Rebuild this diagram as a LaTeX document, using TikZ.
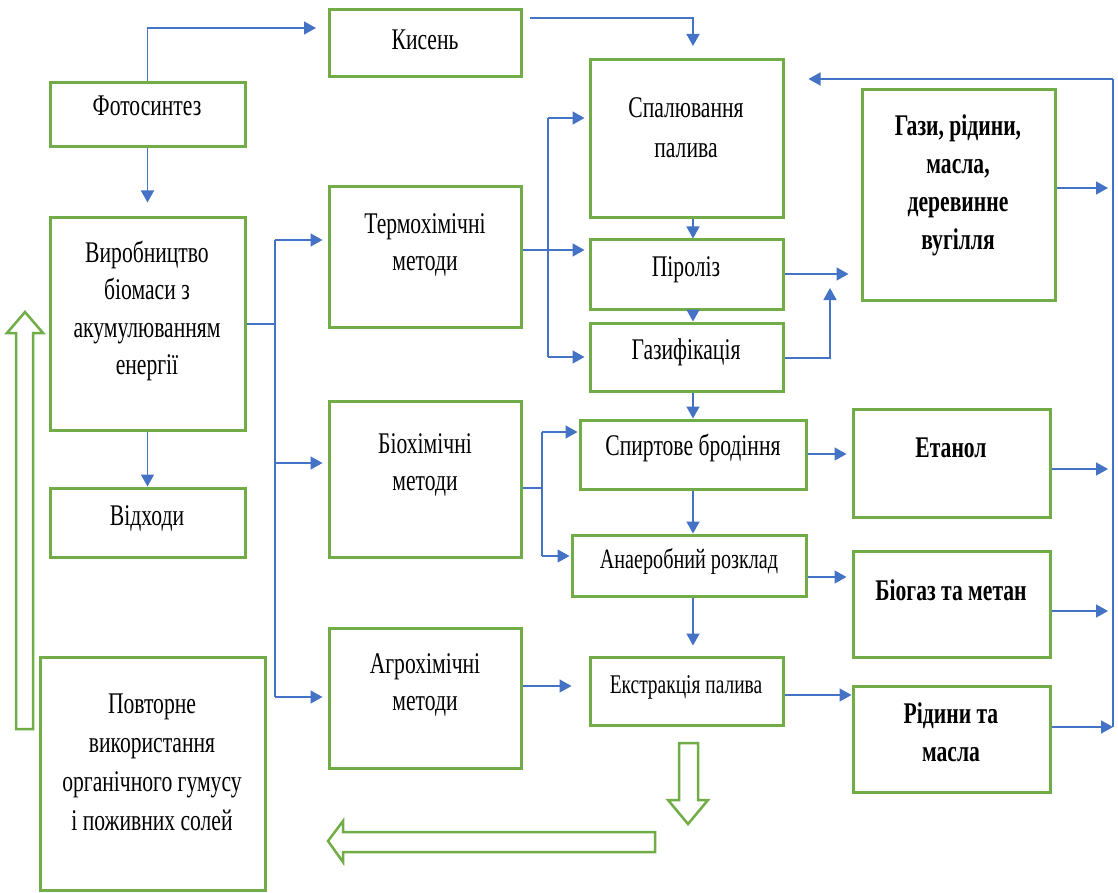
\documentclass[tikz,border=0pt]{standalone}
\usepackage{fontspec}
\setmainfont{Liberation Serif}[FakeStretch=0.72]
\usetikzlibrary{arrows.meta,fit}
\definecolor{gr}{HTML}{70AD47}
\definecolor{bl}{HTML}{4472C4}
\begin{document}
\begin{tikzpicture}[x=1pt,y=-1pt,
  box/.style={draw=gr,line width=3pt,inner sep=0pt,rectangle},
  txt/.style={align=center,inner sep=0pt,font=\fontsize{30}{37.5}\selectfont},
  btxt/.style={align=center,inner sep=0pt,font=\fontsize{30}{38}\selectfont\bfseries},
  ln/.style={draw=bl,line width=1.6pt},
  arr/.style={ln,-{Triangle[length=12pt,width=13pt]}},
  hollow/.style={draw=gr,line width=2.5pt,fill=white,line join=miter}]
\useasboundingbox (0,0) rectangle (1118,893);

% boxes
\node[box,fit={(329,10)(521,77)}] (kys) {};
\node[box,fit={(50,83)(245,147)}] (foto) {};
\node[box,fit={(50,218)(245,430)}] (vyr) {};
\node[box,fit={(50,488)(245,557)}] (vidh) {};
\node[box,fit={(40,657)(265,890)}] (povt) {};
\node[box,fit={(329,187)(521,327)}] (term) {};
\node[box,fit={(329,401)(521,557)}] (bio) {};
\node[box,fit={(329,628)(521,768)}] (agro) {};
\node[box,fit={(590,60)(783,218)}] (spal) {};
\node[box,fit={(590,240)(783,309)}] (pir) {};
\node[box,fit={(590,323)(783,391)}] (gaz) {};
\node[box,fit={(580,420)(806,489)}] (spyrt) {};
\node[box,fit={(572,535)(806,596)}] (anaer) {};
\node[box,fit={(590,657)(783,725)}] (ekst) {};
\node[box,fit={(862,90)(1055,300)}] (gazy) {};
\node[box,fit={(853,409)(1050,517)}] (etan) {};
\node[box,fit={(853,551)(1050,657)}] (biogaz) {};
\node[box,fit={(853,686)(1050,792)}] (ridyny) {};

% texts
\node[txt] (kysT) at (425,40) {Кисень};
\node[txt] (fotoT) at (147,106) {Фотосинтез};
\node[txt] (vyrT) at (147,311) {Виробництво\\біомаси з\\акумулюванням\\енергії};
\node[txt] (vidhT) at (147,518) {Відходи};
\node[txt,font=\fontsize{30}{39}\selectfont] (povtT) at (152,762) {Повторне\\використання\\органічного гумусу\\і поживних солей};
\node[txt] (termT) at (425,245) {Термохімічні\\методи};
\node[txt] (bioT) at (425,465) {Біохімічні\\методи};
\node[txt] (agroT) at (425,685) {Агрохімічні\\методи};
\node[txt,font=\fontsize{30}{40}\selectfont] (spalT) at (686,128) {Спалювання\\палива};
\node[txt] (pirT) at (686,270) {Піроліз};
\node[txt] (gazT) at (686,352) {Газифікація};
\node[txt] (spyrtT) at (693,448) {Спиртове бродіння};
\node[txt,font=\fontsize{28}{34}\selectfont] (anaerT) at (689,561) {Анаеробний розклад};
\node[txt,font=\fontsize{27}{34}\selectfont] (ekstT) at (686,687) {Екстракція палива};
\node[btxt] (gazyT) at (958,185) {Гази, рідини,\\масла,\\деревинне\\вугілля};
\node[btxt] (etanT) at (951,448) {Етанол};
\node[btxt] (biogazT) at (951,590) {Біогаз та метан};
\node[btxt] (ridynyT) at (951,732) {Рідини та\\масла};

% coordinates
\coordinate (kysIn) at (316,28);
\coordinate (kysOut) at (530,18);
\coordinate (spalIn) at (693,46);
\coordinate (vx) at (693,0);
\coordinate (t1a) at (275,240);
\coordinate (t1m) at (275,463);
\coordinate (t1b) at (275,697);
\coordinate (t2a) at (548,118);
\coordinate (t2p) at (548,250);
\coordinate (t2b) at (548,357);
\coordinate (t3a) at (542,432);
\coordinate (t3m) at (542,488);
\coordinate (t3b) at (542,556);
\coordinate (ya) at (0,686);
\coordinate (yp) at (0,274);
\coordinate (yg) at (0,358);
\coordinate (gup) at (830,288);
\coordinate (ys) at (0,454);
\coordinate (yan) at (0,577);
\coordinate (ye) at (0,695);
\coordinate (fbx) at (1113,0);
\coordinate (y1) at (0,188);
\coordinate (y2) at (0,469);
\coordinate (y3) at (0,611);
\coordinate (y4) at (0,727);
\coordinate (y0) at (0,79);

% connectors
\draw[arr] (foto.north) |- (kysIn);
\draw[arr] (kysOut) -| (spalIn);
\draw[arr,shorten >=14pt] (foto.south) -- (vyr.north);
\draw[arr] (vyr.south) -- (vidh.north);

\draw[ln] (vyr.east) -- (vyr.east -| t1a);
\draw[ln] (t1a) -- (t1b);
\draw[arr,shorten >=5pt] (t1a) -- (t1a -| term.west);
\draw[arr,shorten >=5pt] (t1m) -- (t1m -| bio.west);
\draw[arr,shorten >=5pt] (t1b) -- (t1b -| agro.west);

\draw[ln] (t2p -| term.east) -- (t2p);
\draw[ln] (t2a) -- (t2b);
\draw[arr,shorten >=4pt] (t2a) -- (t2a -| spal.west);
\draw[arr,shorten >=4pt] (t2p) -- (t2p -| pir.west);
\draw[arr,shorten >=4pt] (t2b) -- (t2b -| gaz.west);

\draw[arr] (spal.south -| vx) -- (pir.north -| vx);
\draw[arr] (pir.south -| vx) -- (gaz.north -| vx);
\draw[arr] (gaz.south -| vx) -- (spyrt.north -| vx);
\draw[arr] (spyrt.south -| vx) -- (anaer.north -| vx);
\draw[arr,shorten >=10pt] (anaer.south -| vx) -- (ekst.north -| vx);

\draw[ln] (t3m -| bio.east) -- (t3m);
\draw[ln] (t3a) -- (t3b);
\draw[arr,shorten >=1pt] (t3a) -- (t3a -| spyrt.west);
\draw[arr,shorten >=1pt] (t3b) -- (t3b -| anaer.west);

\draw[arr,shorten >=17pt] (ya -| agro.east) -- (ya -| ekst.west);
\draw[arr,shorten >=12pt] (yp -| pir.east) -- (yp -| gazy.west);
\draw[arr] (yg -| gaz.east) -| (gup);
\draw[arr,shorten >=5pt] (ys -| spyrt.east) -- (ys -| etan.west);
\draw[arr,shorten >=5pt] (yan -| anaer.east) -- (yan -| biogaz.west);
\draw[arr] (ye -| ekst.east) -- (ye -| ridyny.west);

\draw[arr,shorten >=5pt] (y1 -| gazy.east) -- (y1 -| fbx);
\draw[arr,shorten >=5pt] (y2 -| etan.east) -- (y2 -| fbx);
\draw[arr,shorten >=5pt] (y3 -| biogaz.east) -- (y3 -| fbx);
\draw[arr] (y4 -| ridyny.east) -- (y4 -| fbx);
\draw[ln] (y4 -| fbx) -- (y0 -| fbx);
\draw[arr,shorten >=24pt] (y0 -| fbx) -- (y0 -| spal.east);

% hollow arrows
\draw[hollow] (16,729) -- (16,333) -- (7,333) -- (25,312) -- (43,333) -- (33,333) -- (33,729) -- cycle;
\draw[hollow] (679,743) -- (698,743) -- (698,800) -- (708,800) -- (688,824) -- (668,800) -- (679,800) -- cycle;
\draw[hollow] (655,832) -- (343,832) -- (343,821) -- (328,841) -- (343,862) -- (343,852) -- (655,852) -- cycle;
\end{tikzpicture}
\end{document}
